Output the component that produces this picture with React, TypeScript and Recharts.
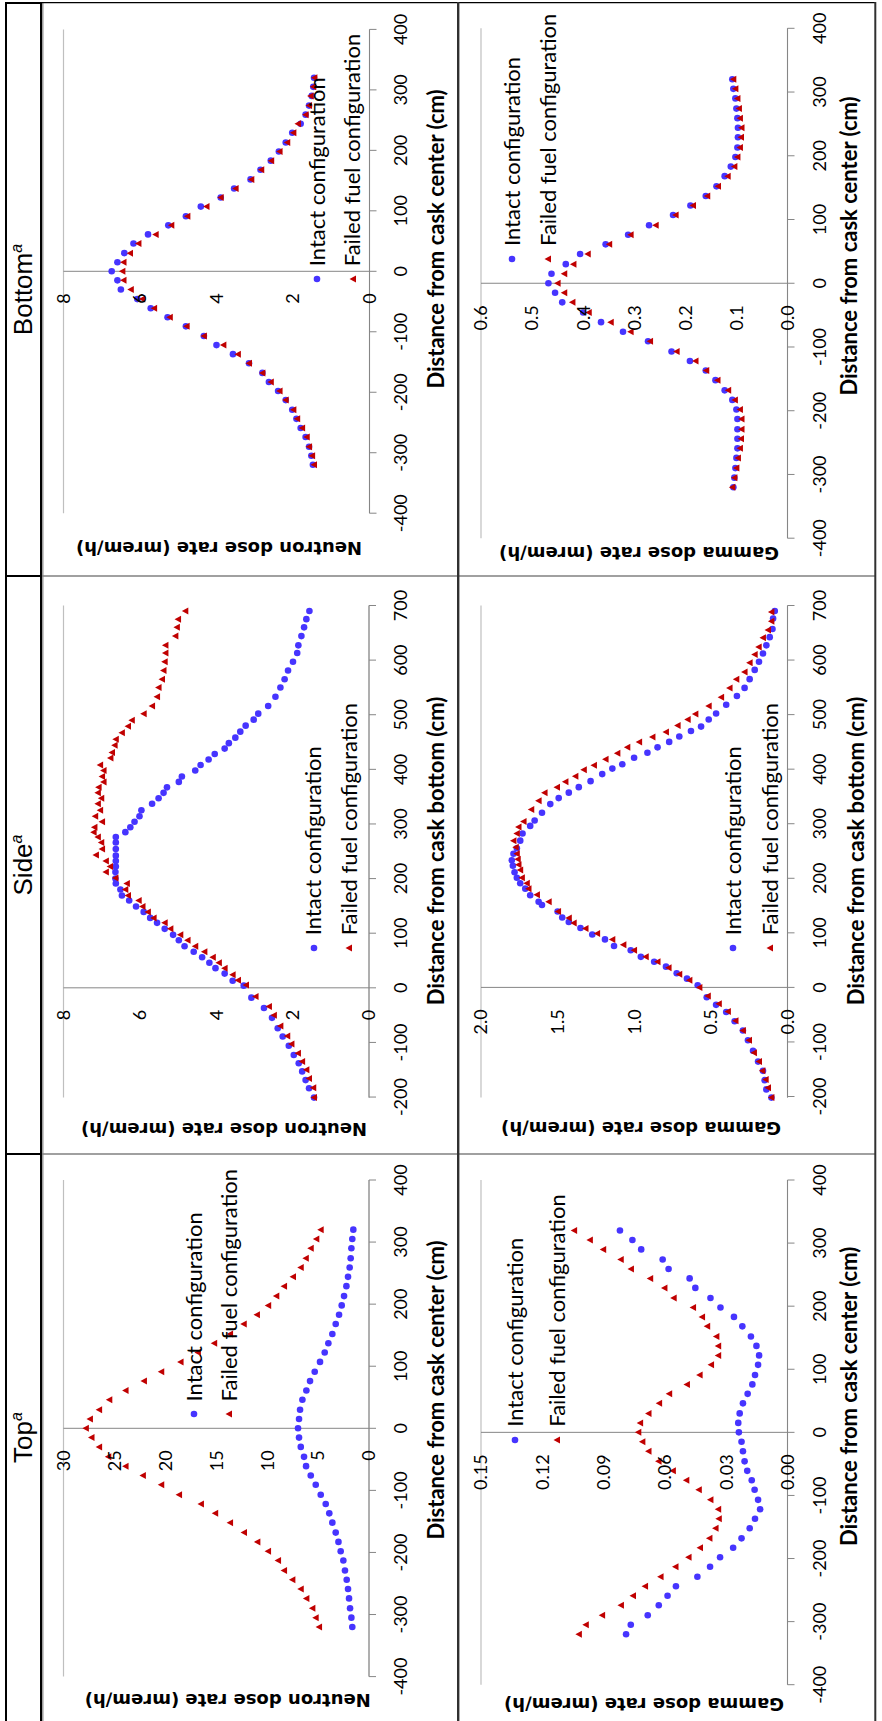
import React from 'react';
import { ScatterChart, Scatter, XAxis, YAxis, CartesianGrid, ReferenceLine, ReferenceDot, Legend } from 'recharts';

// ---------- categories / tick labels ----------
const headers = ['Top', 'Side', 'Bottom'];
const centerDistTicks = [-400, -300, -200, -100, 0, 100, 200, 300, 400];
const sideDistTicks = [-200, -100, 0, 100, 200, 300, 400, 500, 600, 700];
const topNeutronTicks = [0, 5, 10, 15, 20, 25, 30];
const topGammaTicks = [0, 0.03, 0.06, 0.09, 0.12, 0.15];
const sideNeutronTicks = [0, 2, 4, 6, 8];
const sideGammaTicks = [0, 0.5, 1.0, 1.5, 2.0];
const bottomNeutronTicks = [0, 2, 4, 6, 8];
const bottomGammaTicks = [0, 0.1, 0.2, 0.3, 0.4, 0.5, 0.6];

// ---------- distances (cm) ----------
const centerDist = [-320, -305, -290, -274, -259, -244, -229, -213, -198, -183, -168, -152, -137, -122, -107, -91, -76, -61, -46, -30, -15, 0, 15, 30, 46, 61, 76, 91, 107, 122, 137, 152, 168, 183, 198, 213, 229, 244, 259, 274, 290, 305, 320];

// ---------- Top ----------
const topNeutronIntact = [1.64, 1.73, 1.86, 1.96, 2.06, 2.19, 2.36, 2.52, 2.78, 3.0, 3.27, 3.6, 3.9, 4.25, 4.74, 5.23, 5.72, 6.18, 6.38, 6.7, 6.87, 6.97, 6.87, 6.77, 6.54, 6.15, 5.79, 5.33, 4.81, 4.35, 3.99, 3.6, 3.27, 2.94, 2.68, 2.45, 2.22, 2.06, 1.9, 1.8, 1.73, 1.64, 1.54];
const topNeutronFailed = [4.9, 5.23, 5.56, 6.15, 6.7, 7.52, 8.34, 8.93, 9.91, 10.96, 12.27, 13.64, 15.1, 16.5, 18.65, 20.4, 22.2, 23.9, 25.6, 26.5, 27.25, 27.8, 27.4, 26.5, 25.5, 23.9, 22.1, 20.4, 18.5, 16.8, 15.2, 13.64, 12.3, 11.0, 9.9, 9.1, 8.34, 7.46, 6.7, 6.2, 5.72, 5.17, 4.74];
const topGammaIntact = [0.079, 0.0767, 0.0684, 0.063, 0.0587, 0.0546, 0.0441, 0.0379, 0.033, 0.0266, 0.0225, 0.0185, 0.0159, 0.0134, 0.0144, 0.0161, 0.0175, 0.0197, 0.021, 0.0218, 0.0225, 0.0238, 0.0241, 0.0234, 0.0218, 0.0195, 0.0172, 0.0159, 0.0144, 0.0139, 0.0152, 0.0179, 0.0221, 0.0262, 0.0328, 0.0377, 0.0451, 0.0479, 0.0582, 0.0611, 0.0716, 0.0759, 0.082];
const topGammaFailed = [0.1021, 0.0987, 0.0907, 0.0815, 0.0756, 0.0697, 0.0621, 0.0548, 0.0484, 0.0428, 0.0382, 0.0352, 0.0336, 0.0339, 0.0377, 0.0434, 0.0495, 0.0561, 0.0631, 0.068, 0.071, 0.073, 0.0721, 0.068, 0.0628, 0.0579, 0.0492, 0.043, 0.0374, 0.0339, 0.0339, 0.0348, 0.0393, 0.0418, 0.0462, 0.0557, 0.0602, 0.0672, 0.0766, 0.0816, 0.0902, 0.0967, 0.1044];

// ---------- Side ----------
const sideNeutronIntactDist = [-201, -184, -169, -153, -138, -123, -106, -89, -74, -55, -37, -18, 4, 13, 26, 36, 46, 56, 66, 76, 87, 97, 108, 119, 128, 139, 149, 160, 169, 180, 191, 200, 212, 222, 232, 242, 254, 266, 276, 285, 294, 304, 314, 325, 337, 347, 357, 367, 377, 387, 398, 408, 418, 428, 438, 448, 458, 469, 480, 491, 502, 516, 533, 550, 565, 581, 597, 613, 627, 644, 660, 675, 690];
const sideNeutronIntact = [1.44, 1.57, 1.66, 1.75, 1.84, 1.97, 2.1, 2.26, 2.39, 2.54, 2.75, 3.08, 3.28, 3.57, 3.78, 4.02, 4.18, 4.37, 4.59, 4.83, 4.98, 5.13, 5.35, 5.55, 5.73, 5.9, 6.1, 6.28, 6.47, 6.51, 6.63, 6.64, 6.64, 6.63, 6.63, 6.63, 6.63, 6.63, 6.63, 6.38, 6.25, 6.14, 6.01, 5.96, 5.68, 5.51, 5.38, 5.29, 4.98, 4.9, 4.55, 4.41, 4.2, 4.04, 3.78, 3.67, 3.5, 3.37, 3.23, 3.02, 2.9, 2.64, 2.45, 2.32, 2.21, 2.12, 1.99, 1.88, 1.85, 1.77, 1.7, 1.64, 1.56];
const sideNeutronFailedDist = [-201, -183, -166, -150, -135, -120, -103, -88, -70, -50, -34, -16, 5, 14, 24, 36, 46, 56, 66, 76, 87, 97, 108, 119, 128, 139, 149, 160, 169, 180, 191, 201, 212, 222, 232, 243, 254, 266, 276, 285, 294, 304, 314, 325, 337, 347, 357, 367, 377, 387, 398, 408, 421, 431, 444, 455, 467, 479, 490, 502, 516, 533, 550, 565, 581, 597, 613, 627, 644, 660, 675, 690];
const sideNeutronFailed = [1.44, 1.46, 1.57, 1.64, 1.75, 1.86, 2.03, 2.14, 2.32, 2.49, 2.62, 2.97, 3.22, 3.43, 3.57, 3.78, 3.93, 4.09, 4.31, 4.55, 4.75, 4.94, 5.2, 5.35, 5.64, 5.79, 5.93, 6.03, 6.31, 6.38, 6.34, 6.64, 6.89, 6.78, 6.89, 7.15, 6.99, 7.01, 7.1, 7.21, 7.19, 6.99, 7.17, 7.04, 7.1, 7.01, 7.1, 7.08, 6.95, 6.99, 6.95, 7.04, 6.77, 6.73, 6.66, 6.63, 6.47, 6.31, 6.21, 5.9, 5.68, 5.55, 5.51, 5.42, 5.38, 5.35, 5.33, 5.33, 5.07, 5.03, 5.0, 4.81];
const sideGammaIntactDist = [-202, -187, -170, -153, -136, -116, -97, -79, -62, -45, -32, -18, 4, 16, 26, 38, 47, 56, 68, 76, 88, 97, 109, 120, 128, 139, 151, 157, 169, 181, 191, 201, 211, 223, 233, 245, 255, 269, 282, 296, 306, 320, 336, 347, 357, 367, 378, 391, 401, 409, 421, 430, 440, 450, 460, 470, 478, 491, 502, 518, 534, 549, 565, 582, 597, 612, 627, 642, 657, 676, 690];
const sideGammaIntact = [0.105, 0.138, 0.149, 0.16, 0.192, 0.225, 0.258, 0.291, 0.345, 0.4, 0.466, 0.527, 0.586, 0.656, 0.723, 0.793, 0.87, 0.957, 1.023, 1.132, 1.191, 1.274, 1.351, 1.427, 1.47, 1.5, 1.602, 1.624, 1.679, 1.711, 1.744, 1.766, 1.781, 1.792, 1.799, 1.788, 1.766, 1.744, 1.729, 1.679, 1.65, 1.602, 1.548, 1.493, 1.427, 1.362, 1.285, 1.209, 1.143, 1.078, 1.001, 0.914, 0.848, 0.772, 0.706, 0.63, 0.564, 0.514, 0.466, 0.4, 0.33, 0.28, 0.247, 0.214, 0.186, 0.16, 0.138, 0.116, 0.098, 0.094, 0.083];
const sideGammaFailedDist = [-202, -184, -169, -153, -136, -120, -97, -79, -61, -44, -30, -16, 0, 13, 24, 36, 47, 56, 68, 78, 88, 99, 108, 118, 127, 139, 157, 170, 181, 191, 201, 215, 225, 235, 245, 257, 269, 282, 294, 304, 326, 342, 357, 367, 377, 387, 399, 407, 418, 429, 440, 450, 459, 468, 480, 491, 501, 516, 532, 549, 565, 578, 595, 610, 624, 641, 655, 671, 688];
const sideGammaFailed = [0.105, 0.127, 0.142, 0.164, 0.186, 0.219, 0.251, 0.291, 0.339, 0.389, 0.448, 0.52, 0.575, 0.64, 0.706, 0.776, 0.848, 0.925, 1.001, 1.071, 1.143, 1.242, 1.318, 1.395, 1.427, 1.497, 1.558, 1.635, 1.69, 1.701, 1.733, 1.744, 1.755, 1.76, 1.766, 1.773, 1.788, 1.766, 1.755, 1.722, 1.672, 1.624, 1.585, 1.504, 1.449, 1.384, 1.329, 1.263, 1.187, 1.11, 1.045, 0.968, 0.881, 0.793, 0.717, 0.651, 0.601, 0.514, 0.433, 0.378, 0.334, 0.28, 0.247, 0.214, 0.188, 0.16, 0.127, 0.105, 0.105];

// ---------- Bottom ----------
const bottomNeutronIntact = [1.48, 1.52, 1.58, 1.67, 1.8, 1.91, 2.02, 2.19, 2.39, 2.63, 2.8, 3.15, 3.57, 4.0, 4.33, 4.8, 5.28, 5.72, 6.07, 6.5, 6.59, 6.74, 6.59, 6.41, 6.17, 5.79, 5.26, 4.8, 4.41, 3.89, 3.54, 3.11, 2.85, 2.58, 2.37, 2.19, 2.02, 1.8, 1.67, 1.58, 1.51, 1.47, 1.45];
const bottomNeutronFailed = [1.45, 1.5, 1.58, 1.64, 1.76, 1.89, 1.99, 2.19, 2.35, 2.58, 2.8, 3.15, 3.44, 3.82, 4.33, 4.78, 5.22, 5.63, 5.94, 6.24, 6.43, 6.46, 6.43, 6.26, 6.04, 5.59, 5.18, 4.76, 4.26, 3.89, 3.5, 3.09, 2.83, 2.57, 2.35, 2.15, 1.99, 1.87, 1.67, 1.58, 1.54, 1.47, 1.44];
const bottomGammaIntact = [0.106, 0.104, 0.102, 0.1, 0.098, 0.098, 0.098, 0.098, 0.1, 0.108, 0.123, 0.141, 0.16, 0.191, 0.227, 0.273, 0.322, 0.365, 0.4, 0.441, 0.455, 0.468, 0.462, 0.434, 0.406, 0.356, 0.312, 0.271, 0.224, 0.19, 0.16, 0.139, 0.123, 0.111, 0.102, 0.098, 0.097, 0.097, 0.098, 0.1, 0.102, 0.106, 0.108];
const bottomGammaFailed = [0.108, 0.104, 0.1, 0.097, 0.093, 0.091, 0.09, 0.09, 0.093, 0.103, 0.116, 0.137, 0.159, 0.18, 0.217, 0.269, 0.307, 0.346, 0.389, 0.421, 0.437, 0.45, 0.437, 0.419, 0.391, 0.349, 0.307, 0.258, 0.219, 0.185, 0.157, 0.136, 0.117, 0.104, 0.098, 0.093, 0.091, 0.09, 0.093, 0.095, 0.098, 0.102, 0.106];

// ---------- styling ----------
const LW = 1721;
const LH = 882;
const BLUE = '#4634FF';
const RED = '#C00000';
const FONT = 'Lato, "Open Sans", sans-serif';
const TITLE_FONT = '"DejaVu Sans", Verdana, sans-serif';
const HEAD_FONT = '"Liberation Sans", Arial, sans-serif';
const XH = 40;

const pts = (xs: number[], ys: number[]) => xs.map((x, i) => ({ x, y: ys[i] }));

const renderCircle = (p: any) =>
  p.cx == null ? <g /> : <circle cx={p.cx} cy={p.cy} r={3.3} fill={BLUE} />;
const renderTri = (p: any) => {
  if (p.cx == null) return <g />;
  const s = 3.5;
  return (
    <polygon
      points={`${p.cx},${p.cy - s} ${p.cx + s},${p.cy + s * 0.85} ${p.cx - s},${p.cy + s * 0.85}`}
      fill={RED}
    />
  );
};

type Box = { l: number; t: number; w: number; h: number };
type Plot = { x0: number; x1: number; y0: number; y1: number };
type LegendPos = { mx: number; y1: number; gap: number };

interface PanelProps {
  cell: Box;
  plot: Plot;
  xDomain: [number, number];
  xTicks: number[];
  yDomain: [number, number];
  yTicks: number[];
  fmt: (v: number) => string;
  intact: { x: number; y: number }[];
  failed: { x: number; y: number }[];
  legend: LegendPos;
  tickMargin: number;
}

const makeLegend = (gap: number) => () => (
  <div style={{ fontFamily: FONT, fontSize: 22, color: '#000', whiteSpace: 'nowrap', lineHeight: 1.2 }}>
    <div style={{ height: gap, display: 'flex', alignItems: 'center' }}>
      <svg width={10} height={10} style={{ marginRight: 8, flex: 'none' }}>
        <circle cx={5} cy={5} r={3.3} fill={BLUE} />
      </svg>
      <span>Intact configuration</span>
    </div>
    <div style={{ height: gap, display: 'flex', alignItems: 'center' }}>
      <svg width={10} height={10} style={{ marginRight: 8, flex: 'none' }}>
        <polygon points="5,1.5 8.5,8 1.5,8" fill={RED} />
      </svg>
      <span>Failed fuel configuration</span>
    </div>
  </div>
);

function Panel(p: PanelProps) {
  const margin = {
    left: p.plot.x0 - p.cell.l,
    right: p.cell.l + p.cell.w - p.plot.x1,
    top: p.plot.y0 - p.cell.t,
    bottom: p.cell.t + p.cell.h - p.plot.y1 - XH,
  };
  const lx = p.legend.mx - 5 - p.cell.l;
  const ly = p.legend.y1 - p.legend.gap / 2 - p.cell.t;
  return (
    <div style={{ position: 'absolute', left: p.cell.l, top: p.cell.t, width: p.cell.w, height: p.cell.h }}>
      <ScatterChart width={p.cell.w} height={p.cell.h} margin={margin}>
        <CartesianGrid vertical={false} stroke="#BFBFBF" strokeWidth={1.2} />
        <XAxis
          type="number"
          dataKey="x"
          domain={p.xDomain}
          ticks={p.xTicks}
          interval={0}
          height={XH}
          tickSize={7}
          tickMargin={p.tickMargin}
          stroke="#868686"
          tick={{ fill: '#000', fontSize: 18, fontFamily: FONT }}
        />
        <YAxis
          type="number"
          dataKey="y"
          domain={p.yDomain}
          ticks={p.yTicks}
          width={0}
          tick={false}
          axisLine={false}
          tickLine={false}
        />
        <ReferenceLine x={0} stroke="#868686" strokeWidth={1} />
        {p.yTicks.map((v) => (
          <ReferenceDot
            key={v}
            x={0}
            y={v}
            r={0}
            fill="none"
            stroke="none"
            label={{ value: p.fmt(v), position: 'left', offset: 22, fill: '#000', fontSize: 18, fontFamily: FONT }}
          />
        ))}
        <Scatter name="Intact configuration" data={p.intact} shape={renderCircle} isAnimationActive={false} />
        <Scatter name="Failed fuel configuration" data={p.failed} shape={renderTri} isAnimationActive={false} />
        <Legend
          layout="horizontal"
          verticalAlign="middle"
          align="center"
          wrapperStyle={{ left: lx, top: ly, width: 'auto', height: 'auto' }}
          content={makeLegend(p.legend.gap)}
        />
      </ScatterChart>
    </div>
  );
}

const NEUTRON_CELL_T = 44;
const NEUTRON_CELL_H = 414;
const GAMMA_CELL_T = 460;
const GAMMA_CELL_H = 415;

const intFmt = (v: number) => String(v);
const fmt2 = (v: number) => v.toFixed(2);
const fmt1 = (v: number) => v.toFixed(1);

const panels: PanelProps[] = [
  {
    cell: { l: 0, t: NEUTRON_CELL_T, w: 567, h: NEUTRON_CELL_H },
    plot: { x0: 44.4, x1: 541, y0: 63.5, y1: 369 },
    xDomain: [-400, 400], xTicks: centerDistTicks,
    yDomain: [0, 30], yTicks: topNeutronTicks, fmt: intFmt,
    intact: pts(centerDist, topNeutronIntact), failed: pts(centerDist, topNeutronFailed),
    legend: { mx: 306.6, y1: 194.3, gap: 35 }, tickMargin: 18,
  },
  {
    cell: { l: 0, t: GAMMA_CELL_T, w: 567, h: GAMMA_CELL_H },
    plot: { x0: 36.3, x1: 541, y0: 481, y1: 787.5 },
    xDomain: [-400, 400], xTicks: centerDistTicks,
    yDomain: [0, 0.15], yTicks: topGammaTicks, fmt: fmt2,
    intact: pts(centerDist, topGammaIntact), failed: pts(centerDist, topGammaFailed),
    legend: { mx: 281.3, y1: 515.1, gap: 42 }, tickMargin: 19,
  },
  {
    cell: { l: 567, t: NEUTRON_CELL_T, w: 578, h: NEUTRON_CELL_H },
    plot: { x0: 623.4, x1: 1115.5, y0: 63.5, y1: 369 },
    xDomain: [-200, 700], xTicks: sideDistTicks,
    yDomain: [0, 8], yTicks: sideNeutronTicks, fmt: intFmt,
    intact: pts(sideNeutronIntactDist, sideNeutronIntact), failed: pts(sideNeutronFailedDist, sideNeutronFailed),
    legend: { mx: 772.7, y1: 313.7, gap: 35.6 }, tickMargin: 18,
  },
  {
    cell: { l: 567, t: GAMMA_CELL_T, w: 578, h: GAMMA_CELL_H },
    plot: { x0: 623.4, x1: 1115.5, y0: 481, y1: 787.5 },
    xDomain: [-200, 700], xTicks: sideDistTicks,
    yDomain: [0, 2], yTicks: sideGammaTicks, fmt: fmt1,
    intact: pts(sideGammaIntactDist, sideGammaIntact), failed: pts(sideGammaFailedDist, sideGammaFailed),
    legend: { mx: 772.7, y1: 733.5, gap: 36.3 }, tickMargin: 19,
  },
  {
    cell: { l: 1145, t: NEUTRON_CELL_T, w: 573, h: NEUTRON_CELL_H },
    plot: { x0: 1207.8, x1: 1691.6, y0: 63.5, y1: 369.5 },
    xDomain: [-400, 400], xTicks: centerDistTicks,
    yDomain: [0, 8], yTicks: bottomNeutronTicks, fmt: intFmt,
    intact: pts(centerDist, bottomNeutronIntact), failed: pts(centerDist, bottomNeutronFailed),
    legend: { mx: 1441.8, y1: 317, gap: 35.7 }, tickMargin: 18,
  },
  {
    cell: { l: 1145, t: GAMMA_CELL_T, w: 573, h: GAMMA_CELL_H },
    plot: { x0: 1182.8, x1: 1692.7, y0: 481, y1: 787.5 },
    xDomain: [-400, 400], xTicks: centerDistTicks,
    yDomain: [0, 0.6], yTicks: bottomGammaTicks, fmt: fmt1,
    intact: pts(centerDist, bottomGammaIntact), failed: pts(centerDist, bottomGammaFailed),
    legend: { mx: 1462, y1: 511.8, gap: 36.2 }, tickMargin: 19,
  },
];

// axis titles (landscape coordinates)
const distTitles = [
  { text: 'Distance from cask center (cm)', x: 331, y: 444 },
  { text: 'Distance from cask center (cm)', x: 324.7, y: 857 },
  { text: 'Distance from cask bottom (cm)', x: 870, y: 444 },
  { text: 'Distance from cask bottom (cm)', x: 870, y: 864 },
  { text: 'Distance from cask center (cm)', x: 1482, y: 444 },
  { text: 'Distance from cask center (cm)', x: 1475, y: 857 },
];
const doseTitles = [
  { text: 'Neutron dose rate (mrem/h)', x: 27, y: 227.7 },
  { text: 'Gamma dose rate (mrem/h)', x: 23, y: 644 },
  { text: 'Neutron dose rate (mrem/h)', x: 598, y: 224 },
  { text: 'Gamma dose rate (mrem/h)', x: 599, y: 641 },
  { text: 'Neutron dose rate (mrem/h)', x: 1179, y: 219 },
  { text: 'Gamma dose rate (mrem/h)', x: 1174, y: 639 },
];
const headerCenters = [283.5, 856, 1431.5];

function Overlay() {
  return (
    <svg width={LW} height={LH} style={{ position: 'absolute', left: 0, top: 0, pointerEvents: 'none' }}>
      {/* header row */}
      <line x1={0} x2={1719} y1={6} y2={6} stroke="#000" strokeWidth={2} />
      <line x1={0} x2={1719} y1={41} y2={41} stroke="#000" strokeWidth={2} />
      <line x1={0} x2={1718} y1={42.8} y2={42.8} stroke="#9A9A9A" strokeWidth={1.5} />
      <line x1={567} x2={567} y1={6} y2={41} stroke="#000" strokeWidth={2} />
      <line x1={1145} x2={1145} y1={6} y2={41} stroke="#000" strokeWidth={2} />
      <line x1={1718} x2={1718} y1={5} y2={41} stroke="#000" strokeWidth={2} />
      {/* panel grid */}
      <line x1={567} x2={567} y1={42} y2={876} stroke="#808080" strokeWidth={1.5} />
      <line x1={1145} x2={1145} y1={42} y2={876} stroke="#808080" strokeWidth={1.5} />
      <line x1={1718.3} x2={1718.3} y1={41} y2={876} stroke="#000" strokeWidth={1.3} />
      <line x1={0} x2={1719} y1={458.2} y2={458.2} stroke="#303030" strokeWidth={2.4} />
      <line x1={0} x2={1719} y1={875.3} y2={875.3} stroke="#303030" strokeWidth={2} />
      {headers.map((h, i) => (
        <text key={h} x={headerCenters[i]} y={32} textAnchor="middle" fontFamily={HEAD_FONT} fontSize={26} fill="#000">
          {h}
          <tspan fontSize={16} fontStyle="italic" dy={-10}>a</tspan>
        </text>
      ))}
      {distTitles.map((t, i) => (
        <text key={'d' + i} x={t.x} y={t.y} textAnchor="middle" fontFamily={FONT} fontWeight="bold" fontSize={22} fill="#000">
          {t.text}
        </text>
      ))}
      {doseTitles.map((t, i) => (
        <text
          key={'v' + i}
          x={t.x}
          y={t.y}
          textAnchor="middle"
          fontFamily={TITLE_FONT}
          fontWeight="bold"
          fontSize={18}
          fill="#000"
          transform={`rotate(-90 ${t.x} ${t.y})`}
        >
          {t.text}
        </text>
      ))}
    </svg>
  );
}

export default function App() {
  return (
    <div style={{ position: 'absolute', left: 0, top: 0, width: 882, height: 1721, overflow: 'hidden', background: '#fff' }}>
      <div
        style={{
          position: 'absolute',
          left: 0,
          top: 0,
          width: LW,
          height: LH,
          transformOrigin: '0 0',
          transform: `translate(0px, ${LW}px) rotate(-90deg)`,
          background: '#fff',
        }}
      >
        {panels.map((p, i) => (
          <Panel key={i} {...p} />
        ))}
        <Overlay />
      </div>
    </div>
  );
}
